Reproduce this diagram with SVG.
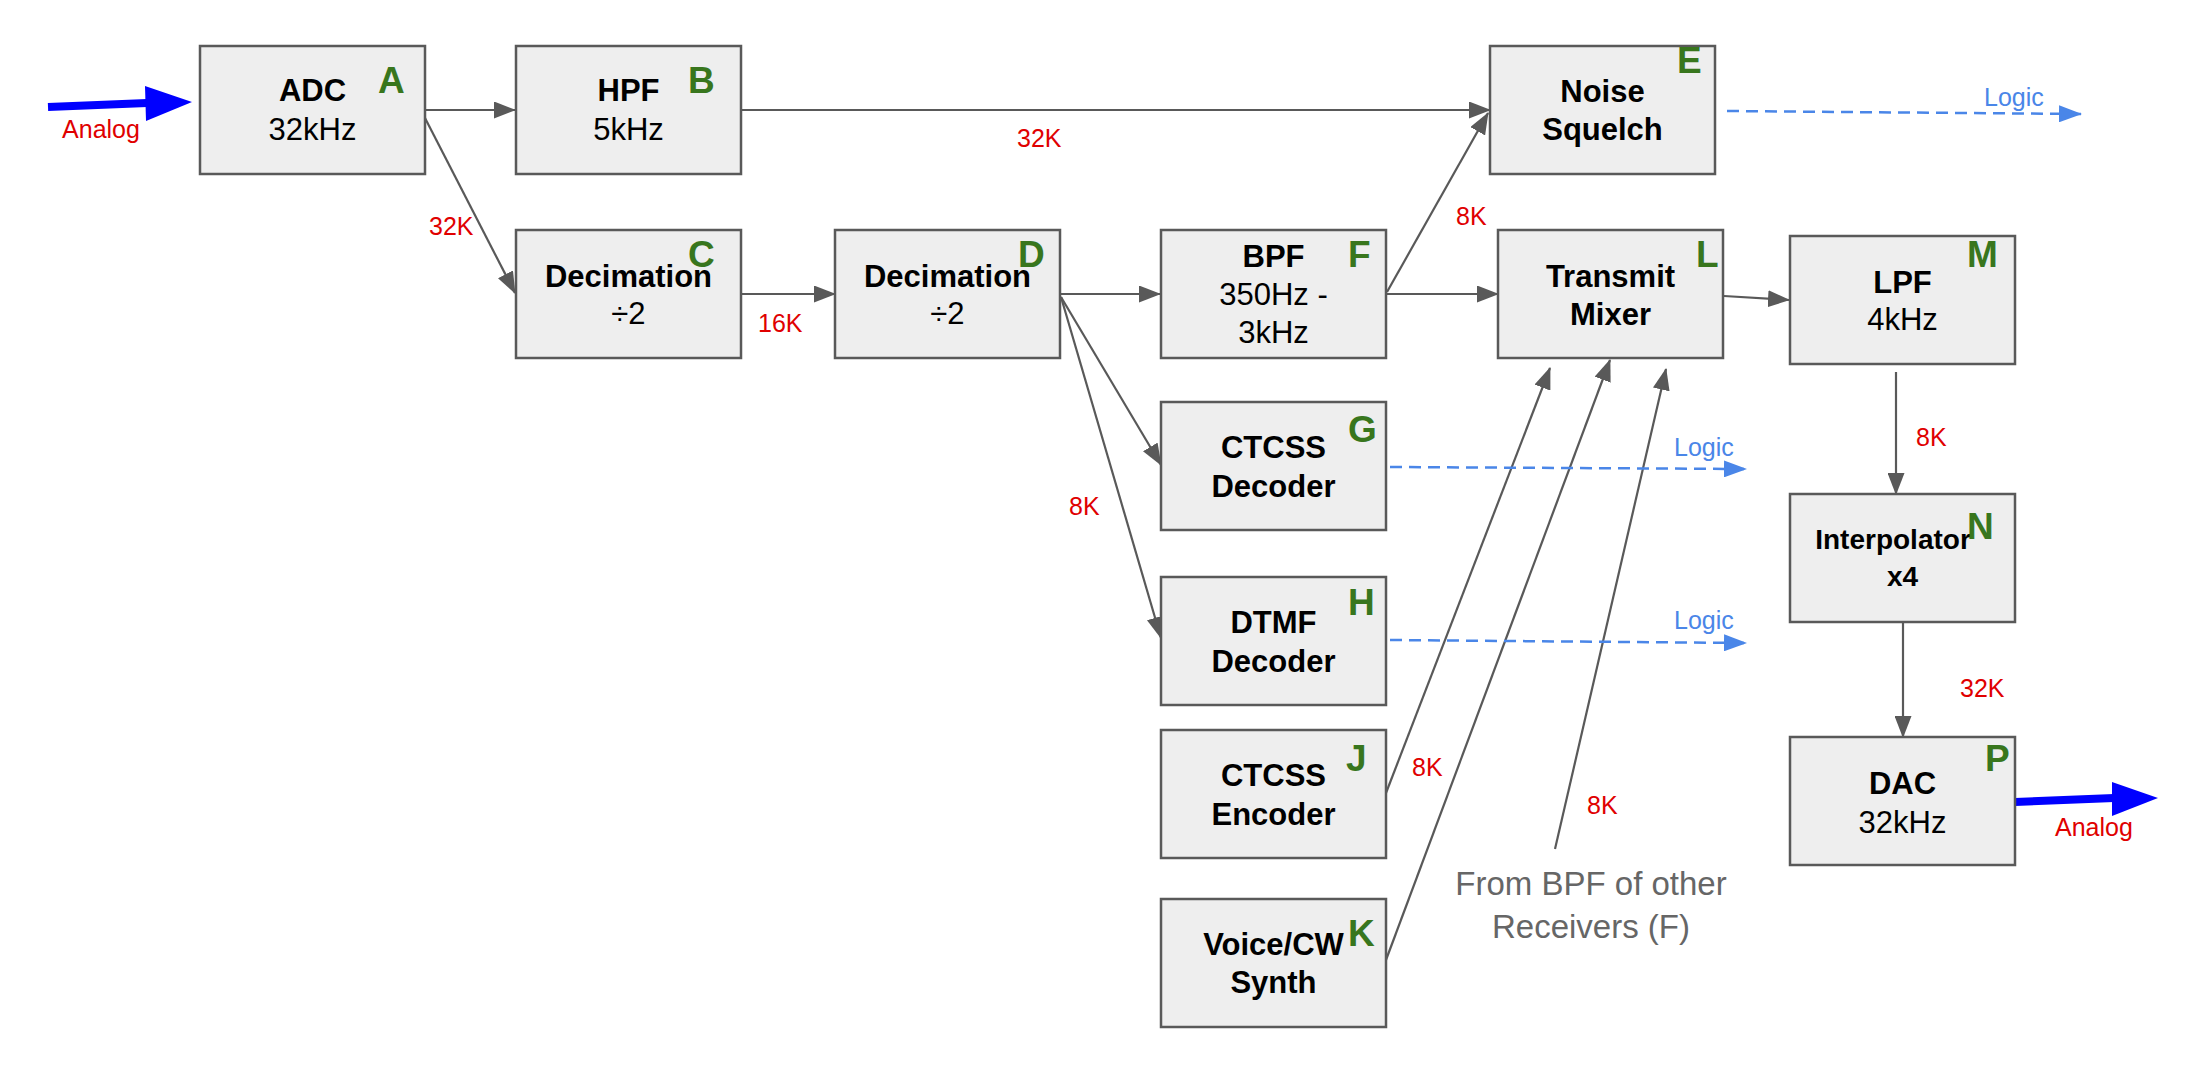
<svg xmlns="http://www.w3.org/2000/svg" width="2197" height="1088" viewBox="0 0 2197 1088">
<defs>
<marker id="ag" markerUnits="userSpaceOnUse" markerWidth="22" markerHeight="17" refX="21" refY="8.5" orient="auto"><path d="M0,0 L22,8.5 L0,17 z" fill="#595959"/></marker>
<marker id="ab" markerUnits="userSpaceOnUse" markerWidth="23" markerHeight="17" refX="22" refY="8.5" orient="auto"><path d="M0,0 L23,8.5 L0,17 z" fill="#4a86e8"/></marker>
</defs>
<style>
.box{fill:#eeeeee;stroke:#595959;stroke-width:2.5}
.t{font-family:"Liberation Sans",Arial,sans-serif;font-size:31px;fill:#000;text-anchor:middle}
.b{font-weight:bold}
.l{font-family:"Liberation Sans",Arial,sans-serif;font-size:37px;font-weight:bold;fill:#38761d}
.r{font-family:"Liberation Sans",Arial,sans-serif;font-size:25px;fill:#e00000}
.lg{font-family:"Liberation Sans",Arial,sans-serif;font-size:25px;fill:#4a86e8}
.c{fill:none;stroke:#595959;stroke-width:2.2}
.d{fill:none;stroke:#4a86e8;stroke-width:2.5;stroke-dasharray:12 7}
.fr{font-family:"Liberation Sans",Arial,sans-serif;font-size:33px;fill:#666666;text-anchor:middle}
</style>
<rect width="2197" height="1088" fill="#ffffff"/>
<g id="connectors">
<path class="c" d="M425,110 H515" marker-end="url(#ag)"/>
<path class="c" d="M425,118 L515,293" marker-end="url(#ag)"/>
<path class="c" d="M741,110 H1490" marker-end="url(#ag)"/>
<path class="c" d="M741,294 H835" marker-end="url(#ag)"/>
<path class="c" d="M1061,294 H1160" marker-end="url(#ag)"/>
<path class="c" d="M1061,297 L1161,465" marker-end="url(#ag)"/>
<path class="c" d="M1061,297 L1161,638" marker-end="url(#ag)"/>
<path class="c" d="M1387,292 L1488,113" marker-end="url(#ag)"/>
<path class="c" d="M1386,294 H1498" marker-end="url(#ag)"/>
<path class="c" d="M1724,296 L1789,300" marker-end="url(#ag)"/>
<path class="c" d="M1896,372 V494" marker-end="url(#ag)"/>
<path class="c" d="M1903,622 V737" marker-end="url(#ag)"/>
<path class="c" d="M1386,793 L1550,368" marker-end="url(#ag)"/>
<path class="c" d="M1386,960 L1610,360" marker-end="url(#ag)"/>
<path class="c" d="M1555,849 L1666,369" marker-end="url(#ag)"/>
<path class="d" d="M1727,111 L2081,114" marker-end="url(#ab)"/>
<path class="d" d="M1390,467 L1746,469" marker-end="url(#ab)"/>
<path class="d" d="M1390,640 L1746,643" marker-end="url(#ab)"/>
<path d="M48,107 L147,103" stroke="#0000ff" stroke-width="8" fill="none"/>
<polygon points="145,86 192,102 146,121" fill="#0000ff"/>
<path d="M2015,802 L2114,798" stroke="#0000ff" stroke-width="8" fill="none"/>
<polygon points="2112,782 2158,798 2112,816" fill="#0000ff"/>
<text class="r" x="429" y="235">32K</text>
<text class="r" x="1017" y="147">32K</text>
<text class="r" x="758" y="332">16K</text>
<text class="r" x="1069" y="515">8K</text>
<text class="r" x="1456" y="225">8K</text>
<text class="r" x="1916" y="446">8K</text>
<text class="r" x="1960" y="697">32K</text>
<text class="r" x="1412" y="776">8K</text>
<text class="r" x="1587" y="814">8K</text>
<text class="r" x="101" y="138" text-anchor="middle">Analog</text>
<text class="r" x="2055" y="836">Analog</text>
<text class="lg" x="1984" y="106">Logic</text>
<text class="lg" x="1674" y="456">Logic</text>
<text class="lg" x="1674" y="629">Logic</text>
<text class="fr" x="1591" y="895">From BPF of other</text>
<text class="fr" x="1591" y="938">Receivers (F)</text>
</g>
<g id="A"><rect class="box" x="200" y="46" width="225" height="128"/><text class="t b" x="312.5" y="101">ADC</text><text class="t" x="312.5" y="140">32kHz</text><text class="l" x="378" y="93">A</text></g>
<g id="B"><rect class="box" x="516" y="46" width="225" height="128"/><text class="t b" x="628.5" y="101">HPF</text><text class="t" x="628.5" y="140">5kHz</text><text class="l" x="688" y="93">B</text></g>
<g id="C"><rect class="box" x="516" y="230" width="225" height="128"/><text class="l" x="688" y="267">C</text><text class="t b" x="628.5" y="287">Decimation</text><text class="t" x="628.5" y="324">÷2</text></g>
<g id="D"><rect class="box" x="835" y="230" width="225" height="128"/><text class="l" x="1018" y="267">D</text><text class="t b" x="947.5" y="287">Decimation</text><text class="t" x="947.5" y="324">÷2</text></g>
<g id="E"><rect class="box" x="1490" y="46" width="225" height="128"/><text class="t b" x="1602.5" y="102">Noise</text><text class="t b" x="1602.5" y="140">Squelch</text><text class="l" x="1677" y="73">E</text></g>
<g id="F"><rect class="box" x="1161" y="230" width="225" height="128"/><text class="t b" x="1273.5" y="267">BPF</text><text class="t" x="1273.5" y="305">350Hz -</text><text class="t" x="1273.5" y="343">3kHz</text><text class="l" x="1348" y="267">F</text></g>
<g id="G"><rect class="box" x="1161" y="402" width="225" height="128"/><text class="t b" x="1273.5" y="458">CTCSS</text><text class="t b" x="1273.5" y="497">Decoder</text><text class="l" x="1348" y="442">G</text></g>
<g id="H"><rect class="box" x="1161" y="577" width="225" height="128"/><text class="t b" x="1273.5" y="633">DTMF</text><text class="t b" x="1273.5" y="672">Decoder</text><text class="l" x="1348" y="615">H</text></g>
<g id="J"><rect class="box" x="1161" y="730" width="225" height="128"/><text class="t b" x="1273.5" y="786">CTCSS</text><text class="t b" x="1273.5" y="825">Encoder</text><text class="l" x="1346" y="771">J</text></g>
<g id="K"><rect class="box" x="1161" y="899" width="225" height="128"/><text class="t b" x="1273.5" y="955">Voice/CW</text><text class="t b" x="1273.5" y="993">Synth</text><text class="l" x="1348" y="946">K</text></g>
<g id="L"><rect class="box" x="1498" y="230" width="225" height="128"/><text class="t b" x="1610.5" y="287">Transmit</text><text class="t b" x="1610.5" y="325">Mixer</text><text class="l" x="1696" y="267">L</text></g>
<g id="M"><rect class="box" x="1790" y="236" width="225" height="128"/><text class="t b" x="1902.5" y="293">LPF</text><text class="t" x="1902.5" y="330">4kHz</text><text class="l" x="1967" y="267">M</text></g>
<g id="N"><rect class="box" x="1790" y="494" width="225" height="128"/><text class="t b" x="1893" y="549" style="font-size:28px">Interpolator</text><text class="t b" x="1902.5" y="586" style="font-size:28px">x4</text><text class="l" x="1967" y="539">N</text></g>
<g id="P"><rect class="box" x="1790" y="737" width="225" height="128"/><text class="t b" x="1902.5" y="794">DAC</text><text class="t" x="1902.5" y="833">32kHz</text><text class="l" x="1985" y="771">P</text></g>
</svg>
